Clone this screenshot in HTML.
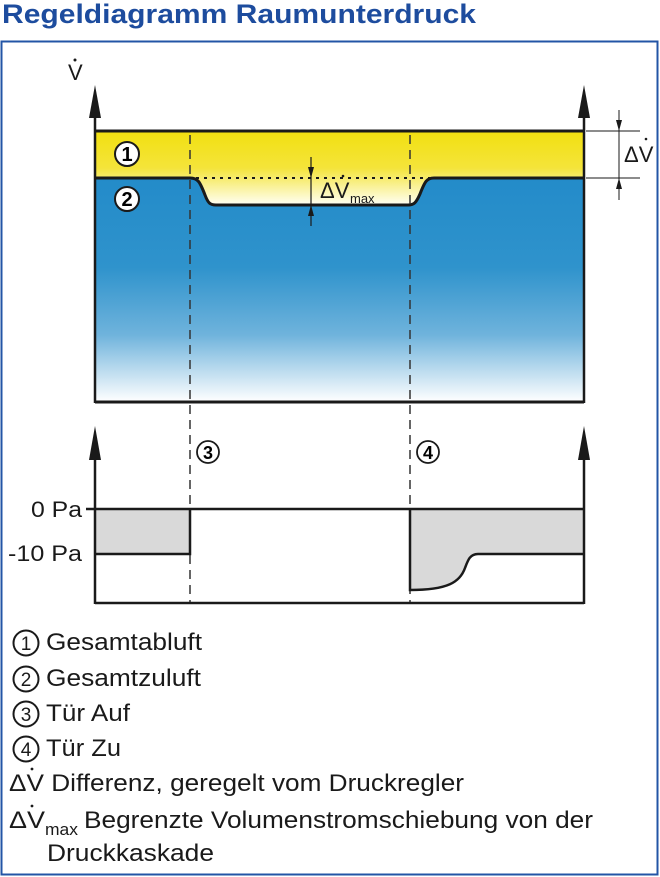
<!DOCTYPE html>
<html><head><meta charset="utf-8"><style>
html,body{margin:0;padding:0;background:#fff;}
svg{display:block;}
text{font-family:"Liberation Sans",sans-serif;}
</style></head><body>
<svg width="660" height="877" viewBox="0 0 660 877" xmlns="http://www.w3.org/2000/svg">
<defs>
<linearGradient id="blue" gradientUnits="userSpaceOnUse" x1="0" y1="178" x2="0" y2="402">
<stop offset="0" stop-color="#238bc9"/>
<stop offset="0.4" stop-color="#2f93cc"/>
<stop offset="0.7" stop-color="#6fb3dc"/>
<stop offset="1" stop-color="#ffffff"/>
</linearGradient>
<linearGradient id="yel" gradientUnits="userSpaceOnUse" x1="0" y1="131" x2="0" y2="205">
<stop offset="0" stop-color="#f2e010"/>
<stop offset="0.5" stop-color="#f4e43a"/>
<stop offset="1" stop-color="#fffff5"/>
</linearGradient>
</defs>
<text x="2" y="23" font-size="27" font-weight="bold" fill="#1d4c9e" textLength="474" lengthAdjust="spacingAndGlyphs">Regeldiagramm Raumunterdruck</text>
<rect x="1.5" y="41.5" width="656" height="833" fill="none" stroke="#2355a6" stroke-width="2"/>

<rect x="95" y="131" width="489" height="271" fill="url(#yel)"/>
<path d="M95,178 L190,178 C198,178 200,182 205,195 C208,203 210,205 216,205 L408,205 C414,205 416,203 420,194 C425,181 427,178 434,178 L584,178 L584,402 L95,402 Z" fill="url(#blue)"/>
<path d="M95,178 L190,178 C198,178 200,182 205,195 C208,203 210,205 216,205 L408,205 C414,205 416,203 420,194 C425,181 427,178 434,178 L584,178" fill="none" stroke="#1a1a1a" stroke-width="3"/>
<line x1="95" y1="131" x2="584" y2="131" stroke="#1a1a1a" stroke-width="3"/>
<line x1="196" y1="178" x2="430" y2="178" stroke="#1a1a1a" stroke-width="2" stroke-dasharray="3,5"/>
<line x1="95" y1="402" x2="584" y2="402" stroke="#1a1a1a" stroke-width="3"/>
<line x1="95" y1="118" x2="95" y2="403" stroke="#1a1a1a" stroke-width="2.5"/>
<line x1="584" y1="118" x2="584" y2="403" stroke="#1a1a1a" stroke-width="2.5"/>
<polygon points="95,85 89,118 101,118" fill="#1a1a1a"/>
<polygon points="584,85 578,118 590,118" fill="#1a1a1a"/>
<text x="68" y="80" font-size="22" fill="#1a1a1a">V</text>
<circle cx="75" cy="60" r="1.5" fill="#1a1a1a"/>

<line x1="190" y1="135" x2="190" y2="603" stroke="#333" stroke-width="1.5" stroke-dasharray="9,6"/>
<line x1="410" y1="135" x2="410" y2="603" stroke="#333" stroke-width="1.5" stroke-dasharray="9,6"/>

<circle cx="127" cy="154" r="12" fill="#fff" stroke="#1a1a1a" stroke-width="2"/>
<text x="127" y="161" font-size="20" font-weight="bold" text-anchor="middle">1</text>
<circle cx="127" cy="199" r="12" fill="#fff" stroke="#1a1a1a" stroke-width="2"/>
<text x="127" y="206" font-size="20" font-weight="bold" text-anchor="middle">2</text>

<line x1="311" y1="157" x2="311" y2="226" stroke="#1a1a1a" stroke-width="1.2"/>
<polygon points="311,178 308,167 314,167" fill="#1a1a1a"/>
<polygon points="311,205 308,216 314,216" fill="#1a1a1a"/>
<text x="320" y="198" font-size="22" fill="#1a1a1a">ΔV</text>
<circle cx="343" cy="176" r="1.3" fill="#1a1a1a"/>
<text x="350" y="203" font-size="13" fill="#1a1a1a">max</text>

<line x1="586" y1="131" x2="640" y2="131" stroke="#1a1a1a" stroke-width="1"/>
<line x1="586" y1="178" x2="640" y2="178" stroke="#1a1a1a" stroke-width="1"/>
<line x1="619" y1="110" x2="619" y2="200" stroke="#1a1a1a" stroke-width="1"/>
<polygon points="619,131 616,120 622,120" fill="#1a1a1a"/>
<polygon points="619,178 616,189 622,189" fill="#1a1a1a"/>
<text x="624" y="162" font-size="22" fill="#1a1a1a">ΔV</text>
<circle cx="646" cy="139" r="1.3" fill="#1a1a1a"/>

<rect x="95" y="509" width="95" height="45" fill="#d9d9d9"/>
<path d="M410,509 L584,509 L584,554 L478,554 C470,554 468,560 465,568 C460,582 448,590 410,590 Z" fill="#d9d9d9"/>
<path d="M86,509 L584,509" stroke="#1a1a1a" stroke-width="2.5" fill="none"/>
<path d="M95,554 L190,554 L190,509" stroke="#1a1a1a" stroke-width="2.5" fill="none"/>
<path d="M410,509 L410,590 C448,590 460,582 465,568 C468,560 470,554 478,554 L584,554" stroke="#1a1a1a" stroke-width="2.5" fill="none"/>
<line x1="95" y1="603" x2="584" y2="603" stroke="#1a1a1a" stroke-width="2.5"/>
<line x1="95" y1="458" x2="95" y2="604" stroke="#1a1a1a" stroke-width="2.5"/>
<line x1="584" y1="458" x2="584" y2="604" stroke="#1a1a1a" stroke-width="2.5"/>
<polygon points="95,426 89,460 101,460" fill="#1a1a1a"/>
<polygon points="584,426 578,460 590,460" fill="#1a1a1a"/>
<text x="82" y="517" font-size="22" text-anchor="end" fill="#1a1a1a" textLength="51" lengthAdjust="spacingAndGlyphs">0 Pa</text>
<text x="82" y="561" font-size="22" text-anchor="end" fill="#1a1a1a" textLength="74" lengthAdjust="spacingAndGlyphs">-10 Pa</text>
<circle cx="208" cy="452" r="11" fill="#fff" stroke="#1a1a1a" stroke-width="1.8"/>
<text x="208" y="459" font-size="18" font-weight="bold" text-anchor="middle">3</text>
<circle cx="428" cy="452" r="11" fill="#fff" stroke="#1a1a1a" stroke-width="1.8"/>
<text x="428" y="459" font-size="18" font-weight="bold" text-anchor="middle">4</text>

<g fill="#1a1a1a">
<circle cx="26" cy="643" r="12.5" fill="none" stroke="#1a1a1a" stroke-width="2"/>
<text x="26" y="650" font-size="19" text-anchor="middle">1</text>
<text x="46" y="650" font-size="24" textLength="156" lengthAdjust="spacingAndGlyphs">Gesamtabluft</text>
<circle cx="26" cy="679" r="12.5" fill="none" stroke="#1a1a1a" stroke-width="2"/>
<text x="26" y="686" font-size="19" text-anchor="middle">2</text>
<text x="46" y="686" font-size="24" textLength="155" lengthAdjust="spacingAndGlyphs">Gesamtzuluft</text>
<circle cx="26" cy="714" r="12.5" fill="none" stroke="#1a1a1a" stroke-width="2"/>
<text x="26" y="721" font-size="19" text-anchor="middle">3</text>
<text x="46" y="721" font-size="24" textLength="84" lengthAdjust="spacingAndGlyphs">Tür Auf</text>
<circle cx="26" cy="749" r="12.5" fill="none" stroke="#1a1a1a" stroke-width="2"/>
<text x="26" y="756" font-size="19" text-anchor="middle">4</text>
<text x="46" y="756" font-size="24" textLength="75" lengthAdjust="spacingAndGlyphs">Tür Zu</text>
<text x="9" y="791" font-size="24" textLength="455" lengthAdjust="spacingAndGlyphs">ΔV Differenz, geregelt vom Druckregler</text>
<circle cx="32" cy="769" r="1.4"/>
<text x="9" y="828" font-size="24" textLength="36" lengthAdjust="spacingAndGlyphs">ΔV</text>
<circle cx="32" cy="806" r="1.4"/>
<text x="45" y="835" font-size="17" textLength="33" lengthAdjust="spacingAndGlyphs">max</text>
<text x="84" y="828" font-size="24" textLength="509" lengthAdjust="spacingAndGlyphs">Begrenzte Volumenstromschiebung von der</text>
<text x="47" y="861" font-size="24" textLength="167" lengthAdjust="spacingAndGlyphs">Druckkaskade</text>
</g>
</svg>
</body></html>
